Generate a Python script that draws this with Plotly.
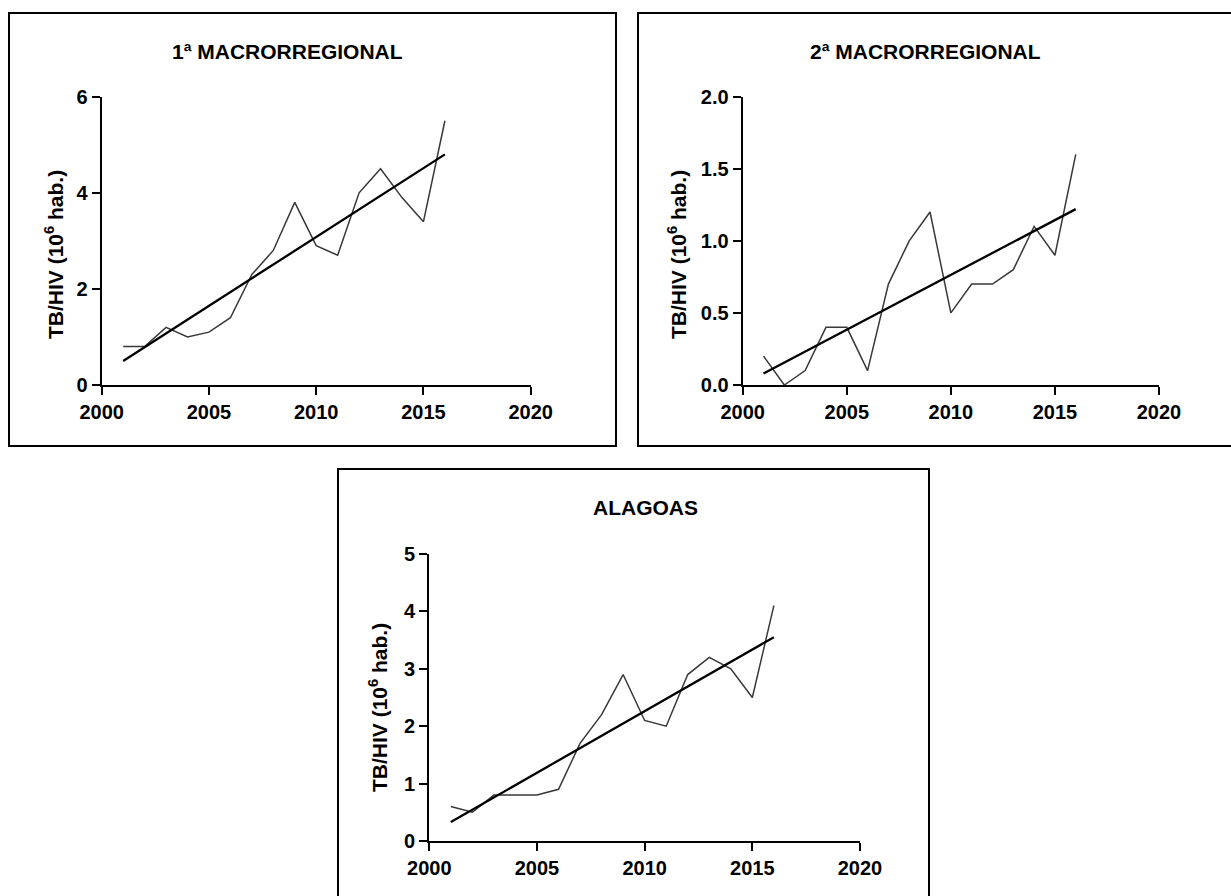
import plotly.graph_objects as go

W, H = 1231, 896

years = list(range(2001, 2017))

macro1_values = [0.8, 0.8, 1.2, 1.0, 1.1, 1.4, 2.3, 2.8, 3.8, 2.9, 2.7, 4.0, 4.5, 3.9, 3.4, 5.5]
macro2_values = [0.2, 0.0, 0.1, 0.4, 0.4, 0.1, 0.7, 1.0, 1.2, 0.5, 0.7, 0.7, 0.8, 1.1, 0.9, 1.6]
alagoas_values = [0.6, 0.5, 0.8, 0.8, 0.8, 0.9, 1.7, 2.2, 2.9, 2.1, 2.0, 2.9, 3.2, 3.0, 2.5, 4.1]

trend_years = [2001, 2016]
macro1_trend = [0.5, 4.8]
macro2_trend = [0.08, 1.22]
alagoas_trend = [0.33, 3.55]

titles = ["1ª MACRORREGIONAL", "2ª MACRORREGIONAL", "ALAGOAS"]
y_title = "TB/HIV (10<sup>6</sup> hab.)"

x_ticks = [2000, 2005, 2010, 2015, 2020]
macro1_yticks = [0, 2, 4, 6]
macro2_yticks = [0.0, 0.5, 1.0, 1.5, 2.0]
macro2_yticklabels = ["0.0", "0.5", "1.0", "1.5", "2.0"]
alagoas_yticks = [0, 1, 2, 3, 4, 5]

FONT = "Liberation Sans, Arial, Helvetica, sans-serif"


def px_x(v):
    return v / W


def px_y(v):
    return 1 - v / H


fig = go.Figure()

panels = [
    ("x", "y", macro1_values, macro1_trend),
    ("x2", "y2", macro2_values, macro2_trend),
    ("x3", "y3", alagoas_values, alagoas_trend),
]
for xa, ya, vals, tr in panels:
    fig.add_trace(go.Scatter(x=years, y=vals, mode="lines", xaxis=xa, yaxis=ya,
                             line=dict(color="#383838", width=1.5), showlegend=False))
    fig.add_trace(go.Scatter(x=trend_years, y=tr, mode="lines", xaxis=xa, yaxis=ya,
                             line=dict(color="#000000", width=2.3), showlegend=False))

tickfont = dict(family=FONT, size=20, color="black", weight="bold")


def xaxis(domain, anchor):
    return dict(domain=domain, anchor=anchor, range=[2000, 2020], tickvals=x_ticks,
                showline=True, linecolor="black", linewidth=2.2, ticks="outside",
                ticklen=8, tickwidth=2.2, tickcolor="black", showgrid=False,
                zeroline=False, tickfont=tickfont, fixedrange=True, automargin=False)


def yaxis(domain, anchor, rng, tv, tt=None):
    d = dict(domain=domain, anchor=anchor, range=rng, tickvals=tv,
             showline=True, linecolor="black", linewidth=2.2, ticks="outside",
             ticklen=8, tickwidth=2.2, tickcolor="black", showgrid=False,
             zeroline=False, tickfont=tickfont, fixedrange=True, automargin=False)
    if tt is not None:
        d["ticktext"] = tt
    return d


p1x = [px_x(101.7), px_x(530.7)]
p2x = [px_x(742.7), px_x(1159)]
p3x = [px_x(429.3), px_x(860)]
top_y = [px_y(385), px_y(96.7)]
bot_y = [px_y(841), px_y(554)]

fig.update_layout(
    template="none",
    width=W, height=H,
    autosize=False,
    margin=dict(l=0, r=0, t=0, b=0, pad=0, autoexpand=False),
    paper_bgcolor="white", plot_bgcolor="white",
    xaxis=xaxis(p1x, "y"),
    yaxis=yaxis(top_y, "x", [0, 6], macro1_yticks),
    xaxis2=xaxis(p2x, "y2"),
    yaxis2=yaxis(top_y, "x2", [0, 2], macro2_yticks, macro2_yticklabels),
    xaxis3=xaxis(p3x, "y3"),
    yaxis3=yaxis(bot_y, "x3", [0, 5], alagoas_yticks),
)

boxes = [(9, 13, 616, 446), (638, 13, 1260, 446), (338, 469, 929, 930)]
for x0, y0, x1, y1 in boxes:
    fig.add_shape(type="rect", xref="paper", yref="paper",
                  x0=px_x(x0), x1=px_x(x1), y0=px_y(y0), y1=px_y(y1),
                  line=dict(color="black", width=2), fillcolor="rgba(0,0,0,0)")

title_pos = [(287, 51), (925, 51), (645, 507)]
for t, (cx, cy) in zip(titles, title_pos):
    fig.add_annotation(text=t, xref="paper", yref="paper", x=px_x(cx), y=px_y(cy),
                       xanchor="center", yanchor="middle", showarrow=False,
                       font=dict(family=FONT, size=21, color="black", weight="bold"))

ytitle_pos = [(54, 254), (677, 254), (378, 708)]
for (cx, cy) in ytitle_pos:
    fig.add_annotation(text=y_title, xref="paper", yref="paper", x=px_x(cx), y=px_y(cy),
                       xanchor="center", yanchor="middle", showarrow=False, textangle=-90,
                       font=dict(family=FONT, size=21, color="black", weight="bold"))

fig.write_html("out.html", config={"responsive": False, "displayModeBar": False},
               post_script="document.body.style.margin='0px';document.body.style.overflow='hidden';")
